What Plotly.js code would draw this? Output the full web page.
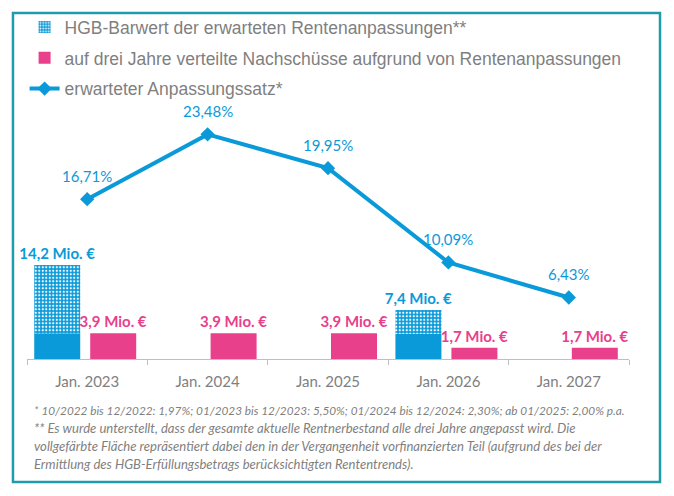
<!DOCTYPE html>
<html>
<head>
<meta charset="utf-8">
<script src="https://cdn.plot.ly/plotly-3.0.1.min.js"></script>
<style>
html,body{margin:0;padding:0;background:#fff;}
#chart{width:674px;height:496px;}
</style>
</head>
<body>
<div id="chart"></div>
<script>
// ---- data ----
var categories = ["Jan. 2023", "Jan. 2024", "Jan. 2025", "Jan. 2026", "Jan. 2027"];
var hgbTotal = [14.2, null, null, 7.4, null];          // Mio. €
var hgbPrefinanced = [3.9, null, null, 3.8, null];     // solid part, Mio. €
var nachschuss = [3.9, 3.9, 3.9, 1.7, 1.7];            // Mio. €
var anpassungssatz = [16.71, 23.48, 19.95, 10.09, 6.43]; // %
var legendNames = [
  "HGB-Barwert der erwarteten Rentenanpassungen**",
  "auf drei Jahre verteilte Nachschüsse aufgrund von Rentenanpassungen",
  "erwarteter Anpassungssatz*"
];
var footnotes = [
  "* 10/2022 bis 12/2022: 1,97%; 01/2023 bis 12/2023: 5,50%; 01/2024 bis 12/2024: 2,30%; ab 01/2025: 2,00% p.a.",
  "** Es wurde unterstellt, dass der gesamte aktuelle Rentnerbestand alle drei Jahre angepasst wird. Die",
  "vollgefärbte Fläche repräsentiert dabei den in der Vergangenheit vorfinanzierten Teil (aufgrund des bei der",
  "Ermittlung des HGB-Erfüllungsbetrags berücksichtigten Rententrends)."
];

// ---- helpers ----
function de(v, d) { return v.toFixed(d).replace('.', ','); }
var BLUE = '#0a9ad9', PINK = '#e8408b', GREY = '#7f7f7f', TEAL = '#1f9bab';
var BW = 0.382;

var patternPart = hgbTotal.map(function (t, i) { return t == null ? null : t - hgbPrefinanced[i]; });
var hgbText = hgbTotal.map(function (t) { return t == null ? '' : de(t, 1) + ' Mio. €'; });
var pinkText = nachschuss.map(function (t) { return de(t, 1) + ' Mio. €'; });

var traces = [
  {
    type: 'bar', x: categories, y: hgbPrefinanced, width: BW, offset: -0.44,
    marker: { color: BLUE }, showlegend: false, hoverinfo: 'skip', legendgroup: 'a'
  },
  {
    type: 'bar', x: categories, y: patternPart, base: hgbPrefinanced, width: BW, offset: -0.44,
    name: legendNames[0], legendgroup: 'a', legendrank: 1,
    marker: { color: BLUE, pattern: { shape: '.', fillmode: 'replace', bgcolor: BLUE, fgcolor: '#ffffff', size: 3.5, solidity: 0.3 } },
    text: hgbText, textposition: 'outside', constraintext: 'none', cliponaxis: false,
    textfont: { family: 'Lato, sans-serif', size: 15, color: BLUE, weight: 'bold' }
  },
  {
    type: 'bar', x: categories, y: nachschuss, width: BW, offset: 0.025,
    name: legendNames[1], legendgroup: 'b', legendrank: 2,
    marker: { color: PINK },
    text: pinkText, textposition: 'outside', constraintext: 'none', cliponaxis: false,
    textfont: { family: 'Lato, sans-serif', size: 15, color: PINK, weight: 'bold' }
  },
  {
    type: 'scatter', mode: 'lines+markers', x: categories, y: anpassungssatz, yaxis: 'y2',
    name: legendNames[2], legendgroup: 'c', legendrank: 3,
    line: { color: BLUE, width: 4 },
    marker: { symbol: 'diamond', size: 11, color: BLUE },
    cliponaxis: false
  }
];

var annotations = anpassungssatz.map(function (v, i) {
  return {
    xref: 'x', yref: 'y2', x: categories[i], y: v, yshift: 23, showarrow: false,
    text: de(v, 2) + '%', font: { family: 'Lato, sans-serif', size: 15, color: BLUE }
  };
});
var footY = [-0.1925, -0.261, -0.329, -0.396];
var footSize = [11.8, 13.1, 13.1, 13.1];
footnotes.forEach(function (t, i) {
  annotations.push({
    xref: 'paper', yref: 'paper', x: 0.008, y: footY[i], xanchor: 'left', yanchor: 'middle',
    showarrow: false, text: '<i>' + t + '</i>',
    font: { family: 'Lato, sans-serif', size: footSize[i], color: GREY }
  });
});

var layout = {
  width: 674, height: 496,
  margin: { l: 27, r: 45, t: 94, b: 137, autoexpand: false },
  paper_bgcolor: '#ffffff', plot_bgcolor: '#ffffff',
  barmode: 'overlay',
  showlegend: true,
  legend: {
    x: -0.004, y: 1.32, xanchor: 'left', yanchor: 'top',
    traceorder: 'grouped', tracegroupgap: 5,
    font: { family: '"Liberation Sans", Arial, sans-serif', size: 17.5, color: GREY },
    bgcolor: 'rgba(0,0,0,0)'
  },
  xaxis: {
    type: 'category', tickson: 'boundaries', ticks: 'outside', ticklen: 5,
    tickcolor: '#bfbfbf', showline: true, linecolor: '#bfbfbf', linewidth: 1,
    showgrid: false, zeroline: false, ticklabelstandoff: 9,
    tickfont: { family: 'Lato, sans-serif', size: 15, color: GREY }
  },
  yaxis: { range: [0, 40], visible: false, showgrid: false, zeroline: false },
  yaxis2: { range: [0, 27.7], overlaying: 'y', visible: false, showgrid: false, zeroline: false },
  shapes: [{
    type: 'rect', xref: 'paper', yref: 'paper',
    x0: -0.0233, x1: 1.0515, y0: -0.464, y1: 1.3057,
    line: { color: TEAL, width: 2.5 }, fillcolor: 'rgba(0,0,0,0)', layer: 'below'
  }],
  annotations: annotations
};

Plotly.newPlot('chart', traces, layout, { displayModeBar: false, staticPlot: true });
</script>
</body>
</html>
